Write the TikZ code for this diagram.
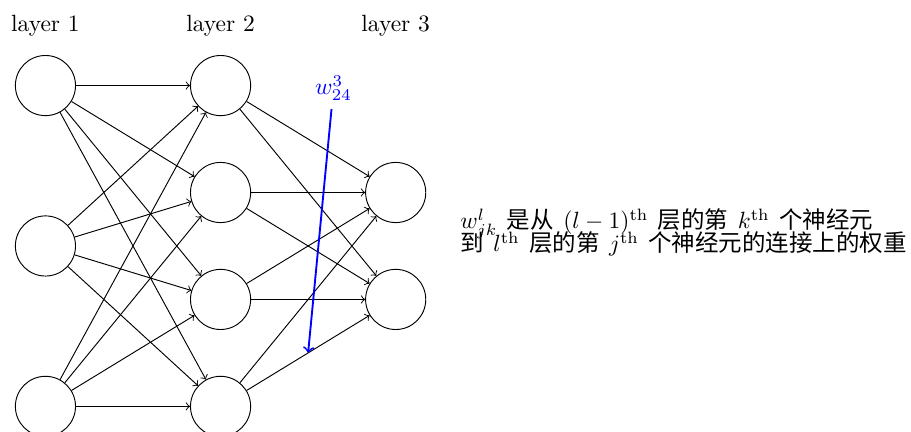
\documentclass[tikz,border=0pt]{standalone}
\usepackage{fontspec}
\newfontfamily\cjk[WordSpace=1.8]{Noto Sans CJK SC}
\usetikzlibrary{calc}

\begin{document}
\begin{tikzpicture}[neuron/.style={shape=circle, draw, minimum size=0.9cm}]
	\useasboundingbox (0, 0) rectangle (13.63, -6.46);

	\node (l1) at (0.68, -0.38){layer 1};
	\node (l2) at (3.30, -0.38){layer 2};
	\node (l3) at (5.92, -0.38){layer 3};

	\node[neuron] (a1) at (0.68, -1.28){};
	\node[neuron] (a2) at (0.68, -3.68){};
	\node[neuron] (a3) at (0.68, -6.08){};
	\node[neuron] (b1) at (3.30, -1.28){};
	\node[neuron] (b2) at (3.30, -2.88){};
	\node[neuron] (b3) at (3.30, -4.48){};
	\node[neuron] (b4) at (3.30, -6.08){};
	\node[neuron] (c1) at (5.92, -2.88){};
	\node[neuron] (c2) at (5.92, -4.48){};

	\draw[->] (a1) to (b1);
	\draw[->] (a1) to (b2);
	\draw[->] (a1) to (b3);
	\draw[->] (a1) to (b4);
	\draw[->] (a2) to (b1);
	\draw[->] (a2) to (b2);
	\draw[->] (a2) to (b3);
	\draw[->] (a2) to (b4);
	\draw[->] (a3) to (b1);
	\draw[->] (a3) to (b2);
	\draw[->] (a3) to (b3);
	\draw[->] (a3) to (b4);

	\draw[->] (b1) to (c1);
	\draw[->] (b1) to (c2);
	\draw[->] (b2) to (c1);
	\draw[->] (b2) to (c2);
	\draw[->] (b3) to (c1);
	\draw[->] (b3) to (c2);
	\draw[->] (b4) to (c1);
	\draw[->] (b4) to (c2);

	\coordinate (w) at ($(b4)!0.5!(c2)$);
	\node[blue] (wl) at (4.99, -1.32){$w^3_{24}$};
	\draw[->, blue, thick] (wl) to (w);

	\node[anchor=west, align=left, inner sep=0, font=\cjk] (txt) at (6.88, -3.48){%
		$w^l_{jk}$ 是从 $(l-1)^{\rm th}$ 层的第 $k^{\rm th}$ 个神经元\\[-4pt]
		到 $l^{\rm th}$ 层的第 $j^{\rm th}$ 个神经元的连接上的权重};
\end{tikzpicture}
\end{document}
